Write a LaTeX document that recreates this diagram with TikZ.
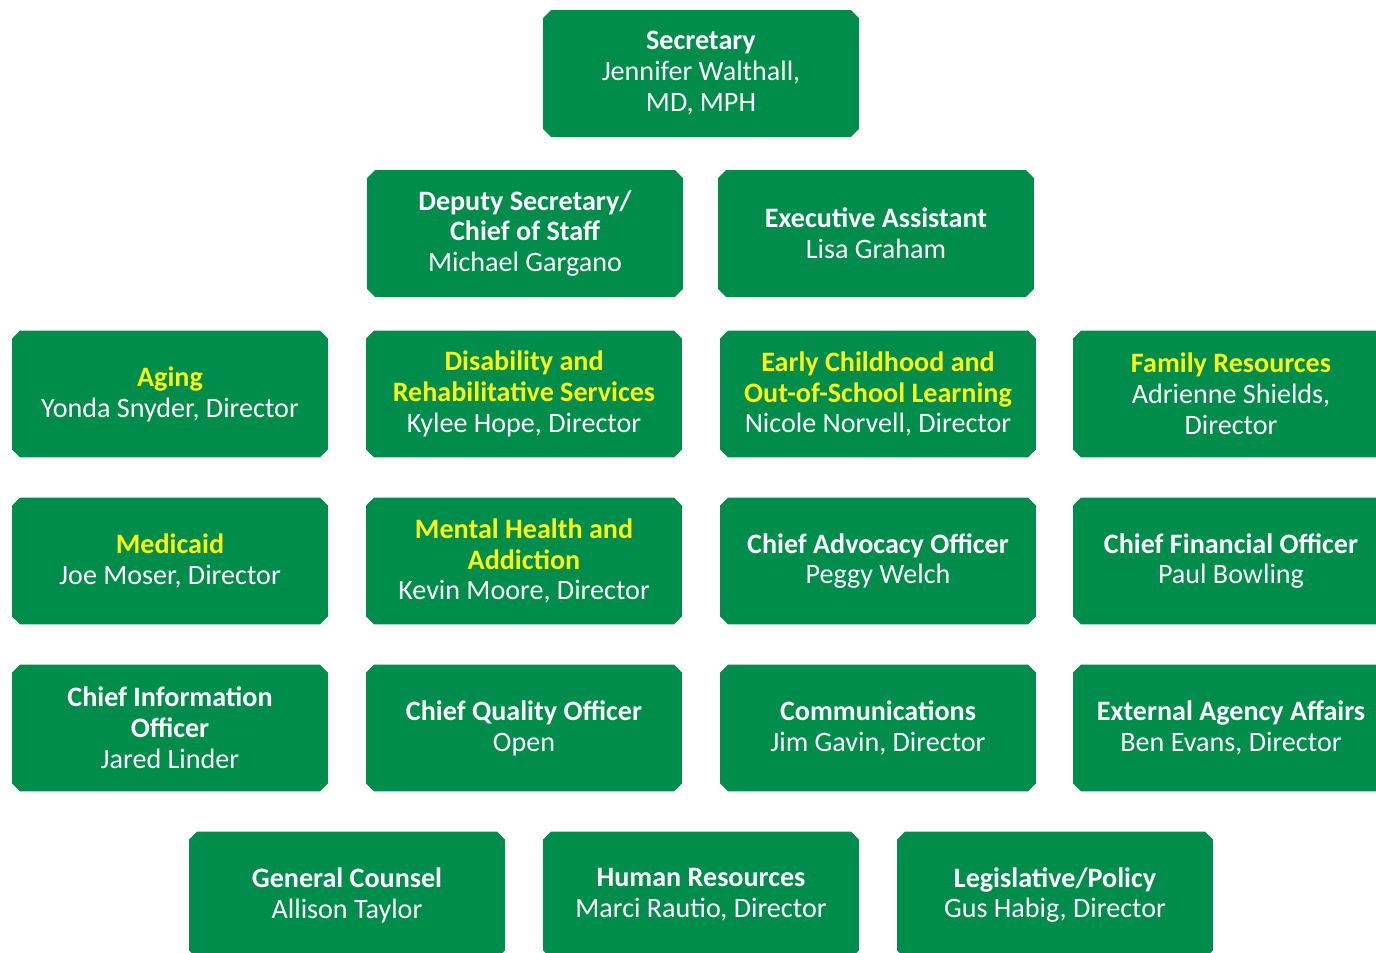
\documentclass[tikz,border=0pt]{standalone}
\usepackage{fontspec}
\setmainfont{Carlito}
\usetikzlibrary{shapes.misc}
\definecolor{boxgreen}{RGB}{0,140,75}
\definecolor{hiyellow}{RGB}{250,245,20}
\newcommand{\yt}[1]{\textcolor{hiyellow}{\textbf{#1}}}
\newcommand{\wt}[1]{\textbf{#1}}

\begin{document}
\begin{tikzpicture}[x=0.02cm,y=-0.02cm,
    unit/.style={chamfered rectangle, chamfered rectangle xsep=0.08cm,
      chamfered rectangle ysep=0.08cm, fill=boxgreen, text=white,
      minimum width=6.32cm, minimum height=2.54cm, inner sep=0pt,
      align=center, font=\fontsize{16}{17.6}\selectfont}]
      \useasboundingbox (0,0) rectangle (1376,953);
      \clip (0,0) rectangle (1376,953);
      \node[unit] (sec) at (701,73.5) {\wt{Secretary}\\Jennifer Walthall,\\MD, MPH};
      \node[unit] (dep) at (525,233.5) {\wt{Deputy Secretary/}\\\wt{Chief of Staff}\\Michael Gargano};
      \node[unit] (exa) at (876,233.5) {\wt{Executive Assistant}\\Lisa Graham};
      \node[unit] (aging) at (170,394) {\yt{Aging}\\Yonda Snyder, Director};
      \node[unit] (drs) at (524,394) {\yt{Disability and}\\\yt{Rehabilitative Services}\\Kylee Hope, Director};
      \node[unit] (early) at (878,394) {\yt{Early Childhood and}\\\yt{Out-of-School Learning}\\Nicole Norvell, Director};
      \node[unit] (family) at (1231,394) {\yt{Family Resources}\\Adrienne Shields,\\Director};
      \node[unit] (medicaid) at (170,561) {\yt{Medicaid}\\Joe Moser, Director};
      \node[unit] (mental) at (524,561) {\yt{Mental Health and}\\\yt{Addiction}\\Kevin Moore, Director};
      \node[unit] (cao) at (878,561) {\wt{Chief Advocacy Officer}\\Peggy Welch};
      \node[unit] (cfo) at (1231,561) {\wt{Chief Financial Officer}\\Paul Bowling};
      \node[unit] (cio) at (170,728) {\wt{Chief Information}\\\wt{Officer}\\Jared Linder};
      \node[unit] (cqo) at (524,728) {\wt{Chief Quality Officer}\\Open};
      \node[unit] (comm) at (878,728) {\wt{Communications}\\Jim Gavin, Director};
      \node[unit] (ext) at (1231,728) {\wt{External Agency Affairs}\\Ben Evans, Director};
      \node[unit] (gc) at (347,895) {\wt{General Counsel}\\Allison Taylor};
      \node[unit] (hr) at (701,895) {\wt{Human Resources}\\Marci Rautio, Director};
      \node[unit] (leg) at (1055,895) {\wt{Legislative/Policy}\\Gus Habig, Director};
\end{tikzpicture}
\end{document}
